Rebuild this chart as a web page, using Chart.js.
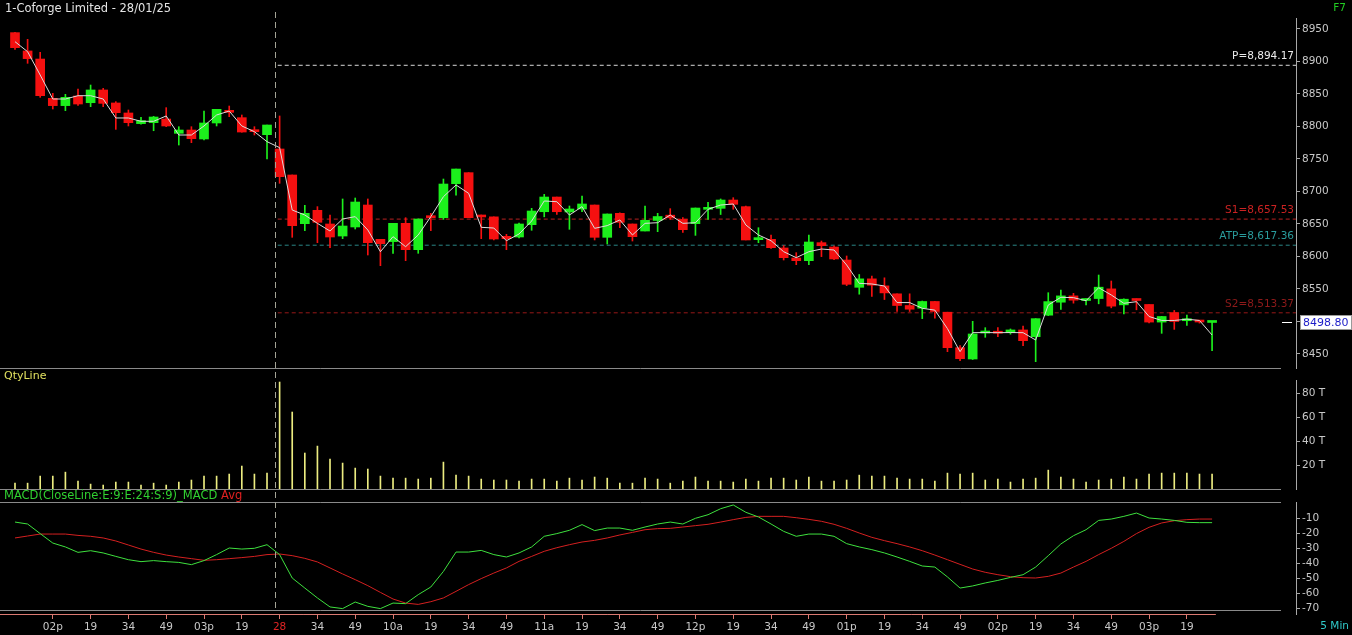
<!DOCTYPE html>
<html>
<head>
<meta charset="utf-8">
<title>Coforge 5 Min</title>
<script src="https://cdn.jsdelivr.net/npm/chart.js@4.4.1/dist/chart.umd.min.js"></script>
<style>
  html, body { margin: 0; padding: 0; background: #000; }
  #wrap { position: relative; width: 1352px; height: 635px; background: #000; overflow: hidden;
          font-family: "DejaVu Sans", sans-serif; font-size: 10.5px; }
  #wrap canvas { position: absolute; left: 0; top: 0; }
  .lbl { position: absolute; white-space: nowrap; line-height: 13px; }
</style>
</head>
<body>
<div id="wrap">
  <canvas id="priceChart" width="1352" height="635"></canvas>
  <canvas id="volChart" width="1352" height="635"></canvas>
  <canvas id="macdChart" width="1352" height="635"></canvas>
  <div class="lbl" style="left:5px; top:2px; color:#e4e4e4; font-size:11.5px;">1-Coforge Limited - 28/01/25</div>
  <div class="lbl" style="right:6px; top:1px; color:#22cc22;">F7</div>
  <div class="lbl" style="left:4px; top:369px; color:#e0e060; font-size:11px;">QtyLine</div>
  <div class="lbl" style="left:4px; top:489px; color:#30d030; font-size:11.5px;">MACD(CloseLine:E:9:E:24:S:9)_MACD <span style="color:#e02020;">Avg</span></div>
  <div class="lbl" style="right:3px; top:619px; color:#30c8c8;">5 Min</div>
</div>
<script>
// Data //

// x axis labels, one every 3 candles
const xTickLabels = ['02p','19','34','49','03p','19','28','34','49','10a','19','34','49','11a','19','34','49',
                     '12p','19','34','49','01p','19','34','49','02p','19','34','49','03p','19'];

// 5 min candles: 21 from the 27th, 75 from the 28th
const opens = [
  8944.4, 8916.2, 8903.8, 8843.3, 8832.1, 8846.9, 8836.6, 8856.2, 8836.2, 8820.8,
  8804.4, 8805.9, 8811.5, 8789.5, 8794.6, 8780.8, 8805.4, 8823.8, 8813.6, 8794.6,
  8787.4, 8765.4, 8725.4, 8650.5, 8671, 8650, 8631.5, 8645.4, 8679.2, 8626.4,
  8622.9, 8651, 8610.5, 8662.8, 8659.7, 8712, 8729, 8663.8, 8661, 8631,
  8630, 8649, 8668.9, 8691.5, 8668.5, 8673.1, 8679.2, 8629.5, 8666.4, 8650,
  8639.2, 8655.4, 8663.6, 8657.1, 8650.5, 8672.6, 8674.1, 8686.9, 8676.7, 8625.9,
  8626.4, 8613.1, 8597.7, 8593.6, 8621.3, 8614.6, 8594.6, 8552.6, 8565.6, 8554.8,
  8542.6, 8524.6, 8520.5, 8530.8, 8514.3, 8459.7, 8442.3, 8482.3, 8484.4, 8482.8,
  8487, 8476.7, 8509.7, 8529.7, 8539.4, 8532.3, 8535.3, 8550.2, 8525.6, 8534.3,
  8526.2, 8499.1, 8513.8, 8501.2, 8501.2, 8498.5
];
const highs = [
  8945, 8934.1, 8914.1, 8851, 8849.5, 8857.7, 8863.8, 8858.7, 8838.2, 8825.4,
  8814.1, 8815.6, 8829, 8799.7, 8799.7, 8823.8, 8826.4, 8831.5, 8817.7, 8799.7,
  8802.3, 8816.2, 8725.4, 8678.7, 8676.7, 8663.8, 8688.5, 8690, 8688.5, 8626.4,
  8651, 8659.7, 8657.7, 8666.4, 8719.2, 8734.6, 8729, 8663.8, 8661, 8634.1,
  8651.5, 8674.1, 8695.6, 8691.5, 8677.7, 8693.1, 8679.2, 8665.4, 8667, 8650,
  8677.7, 8666.4, 8673.6, 8660, 8674.6, 8683.3, 8688.5, 8690.5, 8677.7, 8644.3,
  8633, 8616.7, 8605.9, 8633, 8623.8, 8616, 8600.8, 8572.3, 8569.7, 8567.2,
  8542.6, 8542.6, 8531.5, 8531, 8514.3, 8462.8, 8500.3, 8490.5, 8490.5, 8488.5,
  8493.1, 8504.4, 8544.3, 8548.5, 8543.3, 8535, 8571.5, 8562.3, 8534.8, 8534.8,
  8526.2, 8508, 8517, 8509.7, 8501.5, 8499.5
];
const lows = [
  8918.7, 8897.2, 8844.9, 8826.9, 8824.4, 8832.6, 8830.5, 8830.5, 8795.6, 8800.8,
  8803.4, 8793.5, 8799.7, 8771.5, 8775.1, 8779.2, 8800.8, 8815.1, 8791.2, 8786.9,
  8750, 8712.6, 8629.5, 8639.8, 8621.3, 8613.6, 8627.4, 8642.3, 8602.3, 8585.9,
  8604.9, 8593.6, 8604.9, 8639.8, 8657.1, 8694.4, 8659.7, 8627.4, 8625.5, 8610.5,
  8628.5, 8640.3, 8661, 8664.6, 8641.8, 8668.9, 8625.4, 8619.2, 8644.3, 8623.8,
  8639.2, 8638.2, 8657.1, 8637, 8632.5, 8657.1, 8664.6, 8672.6, 8625.4, 8621.3,
  8612.5, 8594.6, 8587.4, 8587.4, 8599.8, 8595, 8555.2, 8542, 8538.5, 8533.8,
  8515.4, 8515.4, 8504.4, 8505, 8453.6, 8439.7, 8441.5, 8475.7, 8476.5, 8480.5,
  8462.8, 8438.2, 8509, 8518.5, 8528.2, 8525.6, 8527.2, 8521, 8511.7, 8518,
  8498, 8481.8, 8487.9, 8494, 8497.5, 8455.2
];
const closes = [
  8921.3, 8904.4, 8847.4, 8832.1, 8844.9, 8834.6, 8856.2, 8835.6, 8821.3, 8805.9,
  8809.0, 8814.6, 8800.8, 8794.6, 8781.3, 8805.4, 8826.4, 8821.8, 8791.5, 8792,
  8802.3, 8722.8, 8647.4, 8666.4, 8652.6, 8630, 8646.9, 8683.8, 8621.3, 8619.7,
  8651, 8610.5, 8657.7, 8659.7, 8711.5, 8734.6, 8659.7, 8660.8, 8626.9, 8627.4,
  8650, 8670, 8691.5, 8668.9, 8673.1, 8680.8, 8629.5, 8665.4, 8652.6, 8630.5,
  8655.7, 8661.5, 8659.5, 8641.3, 8674.6, 8674.6, 8686.9, 8680.3, 8625.4, 8629,
  8613.6, 8598.2, 8593.6, 8622.3, 8616.7, 8596.2, 8557.2, 8565.6, 8555.8, 8544,
  8524.6, 8518.9, 8530.8, 8515.4, 8459.7, 8442.8, 8480.8, 8484.4, 8482, 8487,
  8470.5, 8504.4, 8530.6, 8539.4, 8532.8, 8534.9, 8552.8, 8523.6, 8534.3, 8532.3,
  8499.1, 8507.7, 8500, 8503.8, 8499.2, 8498.8
];
// thin white line running through the candles
const avgLine = [
  8930.5, 8915.1, 8879.2, 8842.3, 8842.3, 8847.4, 8847.4, 8842.3, 8813.1, 8813.1,
  8808, 8808, 8816.2, 8786.9, 8786.9, 8800.8, 8817.7, 8823.8, 8800.8, 8792,
  8776.7, 8767.5, 8671.5, 8663.8, 8651, 8639.2, 8657.7, 8661.3, 8640.8, 8607.4,
  8630.5, 8615.1, 8633.1, 8661.3, 8692, 8710, 8697.2, 8644.9, 8643.8, 8624.3,
  8634.6, 8654.6, 8685.4, 8684.3, 8663.8, 8676.7, 8643.3, 8647.5, 8656.2, 8633.1,
  8651, 8652, 8663.8, 8651, 8652, 8672.6, 8679.2, 8680.8, 8648.5, 8633.1,
  8624.3, 8607.4, 8598.2, 8607.4, 8611.5, 8610, 8586.9, 8558.7, 8557.7, 8554.6,
  8529.1, 8529.1, 8520.3, 8517.5, 8489, 8453.6, 8482.8, 8483, 8482.8, 8483,
  8482.8, 8471.5, 8525.4, 8537.2, 8536.7, 8532, 8552, 8540.8, 8528, 8530.5,
  8507.7, 8501.6, 8501.6, 8503.6, 8501.6, 8479.2
];
// quantity, thousands
const volumes = [
  4.9, 4.9, 10.8, 10.8, 14.1, 6.6, 4.1, 3.3, 5.8, 5.8,
  3.3, 4.9, 3.3, 5.8, 7.5, 10.8, 10.8, 12.5, 19.2, 12.5,
  13.3, 89.5, 64.4, 30.1, 35.9, 25, 21.7, 17.5, 16.7, 10.8,
  9.1, 9.1, 8.3, 9.1, 22.5, 11.6, 10.8, 8.3, 7.5, 7.5,
  6.6, 8.3, 8.3, 6.6, 9.1, 7.5, 10, 9.1, 4.9, 4.9,
  9.1, 8.3, 4.9, 6.6, 10, 6.6, 6.6, 5.8, 8.3, 6.6,
  9.1, 9.1, 7.5, 10, 6.6, 6.6, 7.5, 11.6, 10.8, 10.8,
  9.1, 8.3, 8.3, 6.6, 13.3, 12.5, 13.3, 7.5, 8.3, 5.8,
  8.3, 9.1, 15.8, 10, 8.3, 5.8, 7.5, 8.3, 10, 8.3,
  12.5, 13.3, 13.3, 13.3, 12.5, 12.5
];
const macdLine = [
  -12.7, -14, -20.4, -26.7, -29.3, -32.9, -31.8, -33.3, -35.6, -37.8,
  -39.1, -38.4, -39.1, -39.6, -41.1, -38.4, -34.4, -30, -30.7, -30.2,
  -27.8, -34.4, -50, -56.7, -63.3, -69.3, -70.4, -66, -68.9, -70.4,
  -66.7, -67.1, -61.1, -56, -45.6, -32.7, -32.7, -31.6, -34.4, -36,
  -33.3, -29.3, -22.2, -20.4, -18.2, -14.4, -18.4, -16.7, -16.7, -18.2,
  -16, -14, -12.7, -14, -10.2, -7.8, -3.8, -1.3, -6.2, -9.3,
  -14, -18.9, -22.2, -20.7, -20.7, -22.2, -27.1, -29.3, -31.1, -33.3,
  -36, -38.9, -42, -42.7, -49.3, -56.7, -55.3, -53.3, -51.6, -49.6,
  -47.8, -42.7, -35.1, -27.3, -21.8, -17.8, -11.6, -10.7, -8.9, -6.7,
  -10, -10.7, -11.6, -12.9, -13.1, -13.1
];
const macdAvg = [
  -23.3, -22, -20.7, -20.7, -20.7, -21.6, -22.2, -23.3, -25.3, -28,
  -30.7, -32.9, -34.7, -36, -37.1, -38.2, -37.8, -37.1, -36.4, -35.6,
  -34.4, -34, -35.1, -36.9, -39.3, -43.3, -47.3, -51.1, -55.1, -59.6,
  -64, -66.7, -67.6, -65.8, -63.3, -58.9, -54.4, -50.4, -46.7, -43.3,
  -38.9, -35.6, -32.2, -29.8, -27.8, -26, -24.9, -23.3, -21.3, -19.6,
  -17.8, -17.1, -16.9, -16, -15.1, -14.2, -12.7, -11.1, -9.6, -8.9,
  -8.9, -8.9, -9.8, -10.9, -12.2, -14.2, -16.9, -20, -22.9, -25.1,
  -27.1, -29.3, -31.8, -34.7, -37.8, -40.9, -44, -46.2, -47.8, -49.1,
  -49.8, -50, -48.9, -46.7, -42.7, -38.9, -34.4, -30.2, -25.6, -20.4,
  -16.2, -13.3, -11.8, -11.1, -10.7, -10.7
];

const priceTicks = [8450, 8500, 8550, 8600, 8650, 8700, 8750, 8800, 8850, 8900, 8950];
const volTicks = [20, 40, 60, 80];
const macdTicks = [-70, -60, -50, -40, -30, -20, -10];

const levelNames = ['P', 'S1', 'ATP', 'S2'];
const levelValues = [8894.17, 8657.53, 8617.36, 8513.37];
const levelLineColors = ['#d8d8d8', '#b82020', '#2a8585', '#961818'];
const levelTextColors = ['#ececec', '#cc2222', '#2a9c9c', '#8e1a1a'];

// Setup //

const UP = '#1cf01c';
const DOWN = '#f51010';
const AXIS = '#a8a8a8';
const X_MIN = -1.19, X_MAX = 101.66;   // room left of the first candle and right of the last
const DAY_SPLIT = 20.6;                // between 27th and 28th
const LEVEL_FROM = 20.85;
const xTickPos = xTickLabels.map((_, k) => 3 * (k + 1));
const n = closes.length;
const idx = closes.map((_, i) => i);
const candleColor = ctx => closes[ctx.dataIndex] >= opens[ctx.dataIndex] ? UP : DOWN;

Chart.defaults.font.family = 'DejaVu Sans';
Chart.defaults.font.size = 10.5;
Chart.defaults.color = '#c8c8c8';

function xAxis(show) {
  return {
    type: 'linear', min: X_MIN, max: X_MAX, offset: false, display: show,
    grid: { display: show, drawOnChartArea: false, drawTicks: true, tickLength: 5, color: '#dc7a72' },
    border: { display: false },
    afterBuildTicks: s => { s.ticks = xTickPos.map(v => ({ value: v })); },
    afterFit: s => { s.height = show ? 21 : 0; },
    ticks: {
      autoSkip: false, maxRotation: 0, padding: 2,
      color: ctx => xTickLabels[ctx.index] === '28' ? '#e02424' : '#c8c8c8',
      callback: (v, i) => xTickLabels[i]
    }
  };
}

function rightAxis(min, max, tickVals, fmt) {
  return {
    position: 'right', min: min, max: max,
    afterBuildTicks: s => { s.ticks = tickVals.map(v => ({ value: v })); },
    afterFit: s => { s.width = 56; },
    grid: { drawOnChartArea: false, drawTicks: true, tickLength: 4, color: AXIS },
    border: { display: true, color: AXIS },
    ticks: { color: '#c8c8c8', padding: 2, callback: fmt }
  };
}

const common = {
  responsive: false,
  animation: false,
  events: [],
  plugins: { legend: { display: false }, tooltip: { enabled: false } }
};

// Price chart //

const mainDeco = {
  id: 'mainDeco',
  afterDraw(chart) {
    const { ctx, chartArea: a, scales: { y } } = chart;
    ctx.save();
    ctx.strokeStyle = '#8a8a8a';
    ctx.lineWidth = 1;
    ctx.beginPath();
    ctx.moveTo(a.left, a.bottom + 0.5);
    ctx.lineTo(a.right - 15, a.bottom + 0.5);
    ctx.stroke();
    const cy = Math.round(y.getPixelForValue(closes[n - 1])) + 0.5;
    ctx.strokeStyle = '#ffffff';
    ctx.beginPath();
    ctx.moveTo(a.right - 14, cy);
    ctx.lineTo(a.right - 4, cy);
    ctx.stroke();
    ctx.restore();
  }
};

const levelSets = levelValues.map((v, k) => ({
  type: 'line',
  data: [{ x: LEVEL_FROM, y: v }, { x: X_MAX, y: v }],
  borderColor: levelLineColors[k],
  borderWidth: 1,
  borderDash: [4, 3],
  pointRadius: 0,
  order: 4
}));

const priceChart = new Chart(document.getElementById('priceChart'), {
  type: 'bar',
  data: {
    datasets: [
      {
        type: 'line',
        data: idx.map(i => ({ x: i, y: avgLine[i] })),
        borderColor: '#dcdcdc', borderWidth: 1, pointRadius: 0, tension: 0, order: 0
      },
      {
        data: idx.map(i => ({ x: i, y: [opens[i], closes[i]] })),
        backgroundColor: candleColor, barThickness: 9, minBarLength: 2,
        grouped: false, borderWidth: 0, order: 1
      },
      {
        data: idx.map(i => ({ x: i, y: [lows[i], highs[i]] })),
        backgroundColor: candleColor, barThickness: 1,
        grouped: false, borderWidth: 0, order: 2
      },
      ...levelSets
    ]
  },
  options: {
    ...common,
    layout: { padding: { top: 18, bottom: 267, left: 0, right: 0 } },
    scales: {
      x: xAxis(false),
      y: rightAxis(8428.46, 8966.92, priceTicks, v => String(v))
    }
  },
  plugins: [mainDeco]
});

// Volume chart //

const volDeco = {
  id: 'volDeco',
  afterDraw(chart) {
    const { ctx, chartArea: a } = chart;
    ctx.save();
    ctx.strokeStyle = '#8a8a8a';
    ctx.lineWidth = 1;
    ctx.beginPath();
    ctx.moveTo(a.left, a.bottom + 0.5);
    ctx.lineTo(a.right - 15, a.bottom + 0.5);
    ctx.stroke();
    ctx.restore();
  }
};

new Chart(document.getElementById('volChart'), {
  type: 'bar',
  data: {
    datasets: [{
      data: idx.map(i => ({ x: i, y: volumes[i] })),
      backgroundColor: '#ecec80', barThickness: 1, borderWidth: 0
    }]
  },
  options: {
    ...common,
    layout: { padding: { top: 380, bottom: 146, left: 0, right: 0 } },
    scales: {
      x: xAxis(false),
      y: rightAxis(0, 91.2, volTicks, v => v + ' T')
    }
  },
  plugins: [volDeco]
});

// MACD chart //

const macdDeco = {
  id: 'macdDeco',
  afterDraw(chart) {
    const { ctx, chartArea: a, scales: { x } } = chart;
    ctx.save();
    ctx.lineWidth = 1;
    ctx.strokeStyle = '#8a8a8a';
    ctx.beginPath();
    ctx.moveTo(a.left, a.top + 0.5);
    ctx.lineTo(a.right - 15, a.top + 0.5);
    ctx.moveTo(a.left, a.bottom - 3.5);
    ctx.lineTo(a.right - 15, a.bottom - 3.5);
    ctx.stroke();
    ctx.strokeStyle = '#dc7a72';
    ctx.beginPath();
    ctx.moveTo(a.left, a.bottom + 0.5);
    ctx.lineTo(x.getPixelForValue(n - 1 + 0.3), a.bottom + 0.5);
    ctx.stroke();
    // day split, through all three panels
    const dx = Math.round(x.getPixelForValue(DAY_SPLIT)) + 0.5;
    ctx.strokeStyle = '#a4a496';
    ctx.setLineDash([6, 4]);
    ctx.beginPath();
    ctx.moveTo(dx, 12);
    ctx.lineTo(dx, a.bottom - 3);
    ctx.stroke();
    ctx.restore();
  }
};

new Chart(document.getElementById('macdChart'), {
  type: 'line',
  data: {
    datasets: [
      {
        data: idx.map(i => ({ x: i, y: macdLine[i] })),
        borderColor: '#3ee03e', borderWidth: 1, pointRadius: 0, tension: 0
      },
      {
        data: idx.map(i => ({ x: i, y: macdAvg[i] })),
        borderColor: '#d42020', borderWidth: 1, pointRadius: 0, tension: 0
      }
    ]
  },
  options: {
    ...common,
    layout: { padding: { top: 502, bottom: 0, left: 0, right: 0 } },
    scales: {
      x: xAxis(true),
      y: rightAxis(-74, 0.67, macdTicks, v => String(v))
    }
  },
  plugins: [macdDeco]
});

// Level labels and last price box //

const wrap = document.getElementById('wrap');
const py = v => priceChart.scales.y.getPixelForValue(v);
const area = priceChart.chartArea;

function fmtNum(v) {
  const parts = v.toFixed(2).split('.');
  return parts[0].replace(/\B(?=(\d{3})+(?!\d))/g, ',') + '.' + parts[1];
}

levelNames.forEach((name, k) => {
  const d = document.createElement('div');
  d.className = 'lbl';
  d.textContent = name + '=' + fmtNum(levelValues[k]);
  d.style.right = (1352 - area.right + 2) + 'px';
  d.style.top = Math.round(py(levelValues[k]) - 16) + 'px';
  d.style.color = levelTextColors[k];
  wrap.appendChild(d);
});

const box = document.createElement('div');
box.className = 'lbl';
box.textContent = closes[n - 1].toFixed(2);
box.style.left = (area.right + 4) + 'px';
box.style.top = Math.round(py(closes[n - 1]) - 7) + 'px';
box.style.background = '#ffffff';
box.style.color = '#1c1cc8';
box.style.border = '1px solid #9a9a9a';
box.style.padding = '0 2px';
box.style.fontSize = '11px';
wrap.appendChild(box);
</script>
</body>
</html>
